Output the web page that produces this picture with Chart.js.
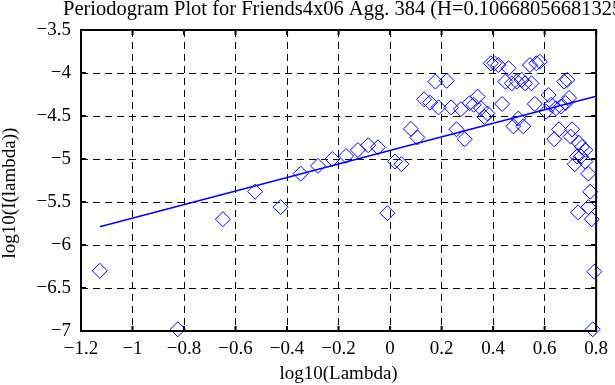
<!DOCTYPE html>
<html>
<head>
<meta charset="utf-8">
<script src="https://cdn.jsdelivr.net/npm/chart.js@4/dist/chart.umd.min.js"></script>
<style>
html,body{margin:0;padding:0;background:#fff;}
#wrap{width:615px;height:385px;position:relative;}
</style>
</head>
<body>
<div id="wrap"><canvas id="c" width="615" height="385"></canvas></div>
<script>
const titleText = "Periodogram Plot for Friends4x06 Agg. 384 (H=0.106680566813258)";
const xTitle = "log10(Lambda)";
const yTitle = "log10(I(lambda))";
const xTicks = [-1.2, -1, -0.8, -0.6, -0.4, -0.2, 0, 0.2, 0.4, 0.6, 0.8];
const yTicks = [-7, -6.5, -6, -5.5, -5, -4.5, -4, -3.5];

const logLambda = [
 -1.127, -0.824, -0.649, -0.524, -0.425, -0.347, -0.280, -0.224, -0.171, -0.125,
 -0.085, -0.047, -0.010, 0.019, 0.044, 0.081, 0.106, 0.132, 0.155, 0.188,
 0.176, 0.220, 0.237, 0.275, 0.309, 0.340, 0.325, 0.353, 0.378, 0.366,
 0.258, 0.290, 0.391, 0.405, 0.420, 0.460, 0.448, 0.473, 0.492, 0.511,
 0.524, 0.549, 0.543, 0.568, 0.581, 0.676, 0.688, 0.435, 0.562, 0.616,
 0.625, 0.644, 0.663, 0.695, 0.682, 0.606, 0.498, 0.479, 0.517, 0.656,
 0.637, 0.707, 0.701, 0.732, 0.745, 0.758, 0.726, 0.717, 0.758, 0.741,
 0.770, 0.777, 0.730, 0.770, 0.783, 0.793, 0.787
];
const logI = [
 -6.30, -6.98, -5.70, -5.38, -5.56, -5.17, -5.08, -5.00, -4.965, -4.895,
 -4.84, -4.864, -5.63, -5.03, -5.06, -4.65, -4.75, -4.306, -4.345, -4.40,
 -4.10, -4.09, -4.40, -4.42, -4.35, -4.275, -4.37, -4.41, -4.47, -4.51,
 -4.655, -4.77, -3.887, -3.887, -3.907, -3.945, -4.10, -4.12, -4.10, -4.08,
 -4.12, -4.12, -3.907, -3.887, -3.868, -4.10, -4.08, -4.36, -4.36, -4.256,
 -4.37, -4.41, -4.39, -4.29, -4.35, -4.45, -4.53, -4.62, -4.62, -4.655,
 -4.77, -4.655, -4.74, -4.81, -4.86, -4.895, -4.97, -5.06, -5.03, -4.97,
 -5.17, -5.38, -5.62, -5.56, -5.70, -6.31, -6.98
];
const fitX = [-1.127, 0.796];
const fitY = [-5.787, -4.274];

const FONT = "Liberation Serif, Times New Roman, serif";
const fmt = v => {
  let s = (Math.round(v * 10) / 10).toString();
  return s.replace('-', '\u2212');
};

const framePlugin = {
  id: 'frame',
  afterDraw(chart) {
    const {ctx, chartArea: a, scales} = chart;
    ctx.save();
    ctx.strokeStyle = '#000';
    ctx.lineWidth = 2;
    ctx.strokeRect(a.left, a.top, a.right - a.left, a.bottom - a.top);
    const tl = 5;
    ctx.beginPath();
    xTicks.forEach(v => {
      const px = scales.x.getPixelForValue(v);
      ctx.moveTo(px, a.bottom); ctx.lineTo(px, a.bottom - tl);
      ctx.moveTo(px, a.top); ctx.lineTo(px, a.top + tl);
    });
    yTicks.forEach(v => {
      const py = scales.y.getPixelForValue(v);
      ctx.moveTo(a.left, py); ctx.lineTo(a.left + tl, py);
      ctx.moveTo(a.right, py); ctx.lineTo(a.right - tl, py);
    });
    ctx.stroke();
    ctx.fillStyle = '#000';
    ctx.textBaseline = 'alphabetic';
    ctx.textAlign = 'left';
    ctx.font = '20.5px ' + FONT;
    ctx.fillText(titleText, 63, 15);
    ctx.font = '19px ' + FONT;
    ctx.textAlign = 'center';
    ctx.fillText(xTitle, (a.left + a.right) / 2, 379);
    ctx.translate(15, 193);
    ctx.rotate(-Math.PI / 2);
    ctx.fillText(yTitle, 0, 0);
    ctx.restore();
  }
};

new Chart(document.getElementById('c'), {
  type: 'scatter',
  data: {
    datasets: [
      {
        type: 'scatter',
        data: logLambda.map((x, i) => ({x: x, y: logI[i]})),
        pointStyle: 'rectRot',
        pointRadius: 7.5,
        pointBorderWidth: 1,
        borderColor: '#0000ff',
        backgroundColor: 'rgba(0,0,0,0)',
        clip: false
      },
      {
        type: 'line',
        data: fitX.map((x, i) => ({x: x, y: fitY[i]})),
        borderColor: '#0000ff',
        borderWidth: 1.6,
        pointRadius: 0,
        fill: false,
        showLine: true
      }
    ]
  },
  options: {
    responsive: false,
    animation: false,
    devicePixelRatio: 1,
    layout: {padding: {top: 30, right: 7, left: 0, bottom: 0}},
    plugins: {legend: {display: false}, tooltip: {enabled: false}, title: {display: false}},
    scales: {
      x: {
        type: 'linear', min: -1.2, max: 0.8,
        afterBuildTicks: s => { s.ticks = xTicks.map(v => ({value: v})); },
        afterFit: s => { s.height = 54; },
        ticks: {font: {family: FONT, size: 19}, color: '#000', padding: 7, callback: fmt, maxRotation: 0, autoSkip: false},
        grid: {color: '#000', lineWidth: 1, drawTicks: false},
        border: {display: false, dash: [7, 5]}
      },
      y: {
        type: 'linear', min: -7, max: -3.5,
        afterBuildTicks: s => { s.ticks = yTicks.map(v => ({value: v})); },
        afterFit: s => { s.width = 81; },
        ticks: {font: {family: FONT, size: 19}, color: '#000', padding: 10, callback: fmt, autoSkip: false},
        grid: {color: '#000', lineWidth: 1, drawTicks: false},
        border: {display: false, dash: [7, 5]}
      }
    }
  },
  plugins: [framePlugin]
});
</script>
</body>
</html>
